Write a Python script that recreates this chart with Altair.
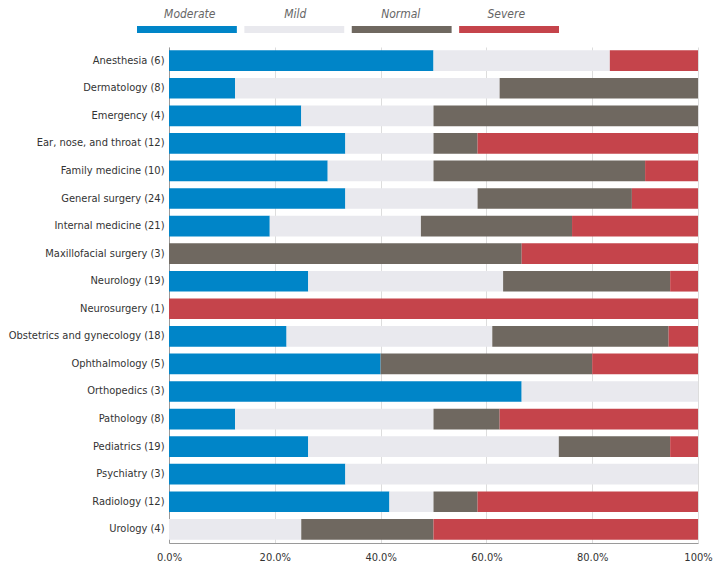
import altair as alt
import pandas as pd

departments = [
    "Anesthesia (6)", "Dermatology (8)", "Emergency (4)", "Ear, nose, and throat (12)",
    "Family medicine (10)", "General surgery (24)", "Internal medicine (21)",
    "Maxillofacial surgery (3)", "Neurology (19)", "Neurosurgery (1)",
    "Obstetrics and gynecology (18)", "Ophthalmology (5)", "Orthopedics (3)",
    "Pathology (8)", "Pediatrics (19)", "Psychiatry (3)", "Radiology (12)", "Urology (4)",
]
moderate = [3, 1, 1, 4, 3, 8, 4, 0, 5, 0, 4, 2, 2, 1, 5, 1, 5, 0]
mild     = [2, 4, 1, 2, 2, 6, 6, 0, 7, 0, 7, 0, 1, 3, 9, 2, 1, 1]
normal   = [0, 3, 2, 1, 4, 7, 6, 2, 6, 0, 6, 2, 0, 1, 4, 0, 1, 1]
severe   = [1, 0, 0, 5, 1, 3, 5, 1, 1, 1, 1, 1, 0, 3, 1, 0, 5, 2]

levels = ["Moderate", "Mild", "Normal", "Severe"]
colors = ["#0085C8", "#E9E9EE", "#6F6860", "#C5444B"]
tick_values = [0, 0.2, 0.4, 0.6, 0.8, 1.0]

rows = []
for i, d in enumerate(departments):
    for k, (lvl, vals) in enumerate(zip(levels, [moderate, mild, normal, severe])):
        rows.append({"department": d, "level": lvl, "count": vals[i], "order": k})
df = pd.DataFrame(rows)
legend_df = pd.DataFrame({"level": levels})

FONT = "'Liberation Sans Narrow', 'DejaVu Sans Condensed', 'Roboto Condensed', Roboto, sans-serif"

color_scale = alt.Scale(domain=levels, range=colors)

bars = alt.Chart(df).mark_bar().encode(
    y=alt.Y("department:N", sort=departments, title=None,
            scale=alt.Scale(paddingInner=0.25, paddingOuter=0.12),
            axis=alt.Axis(ticks=False, domain=True, domainColor="#9a9a9a",
                          labelFont=FONT, labelFontSize=11, labelColor="#333333",
                          labelPadding=5, grid=False)),
    x=alt.X("count:Q", stack="normalize", title=None,
            scale=alt.Scale(domain=[0, 1], nice=False),
            axis=alt.Axis(values=tick_values, ticks=False, domain=True,
                          domainColor="#9a9a9a", grid=True, gridColor="#dddddd",
                          labelFont=FONT, labelFontSize=11, labelColor="#333333",
                          labelPadding=8, labelFlush=False,
                          labelExpr="datum.value == 1 ? '100%' : format(datum.value, '.1%')")),
    color=alt.Color("level:N", scale=color_scale, legend=None),
    order=alt.Order("order:Q"),
)

legend_x = alt.X("level:N", sort=levels, title=None, axis=None,
                 scale=alt.Scale(domain=levels, range=[-32, 390],
                                 paddingInner=0.07, paddingOuter=0))

legend_bars = alt.Chart(legend_df).mark_bar().encode(
    x=legend_x,
    y=alt.value(-21),
    y2=alt.value(-14),
    color=alt.Color("level:N", scale=color_scale, legend=None),
)

legend_text = alt.Chart(legend_df).mark_text(
    font=FONT, fontSize=12, fontStyle="italic", color="#666666", baseline="middle"
).encode(
    x=legend_x,
    y=alt.value(-33),
    text="level:N",
)

chart = alt.layer(bars, legend_bars, legend_text).resolve_scale(
    x="independent"
).properties(
    width=705, height=554,
    autosize=alt.AutoSizeParams(type="fit", contains="padding"),
    padding=0,
).configure_view(stroke=None)

chart.save("out.html", embed_options={"renderer": "svg", "actions": False})
